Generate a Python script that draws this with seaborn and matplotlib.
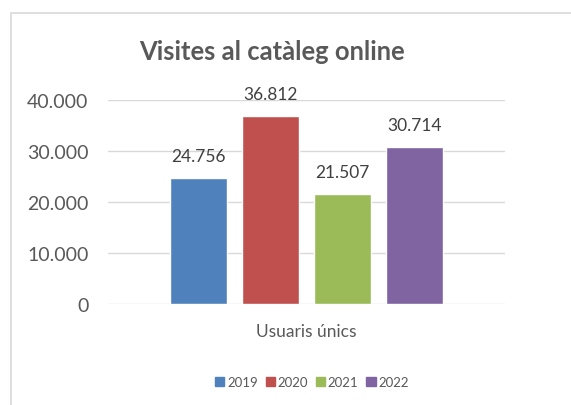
import pandas as pd
import seaborn as sns
import matplotlib.pyplot as plt
from matplotlib.patches import Rectangle

# Datos
categoria = ["Usuaris únics"]
anys = ["2019", "2020", "2021", "2022"]
visites = [24756, 36812, 21507, 30714]
colors = ["#4F81BD", "#C0504D", "#9BBB59", "#8064A2"]

df = pd.DataFrame({
    "Categoria": categoria * len(anys),
    "Any": anys,
    "Visites": visites,
})

sns.set_theme(style="white")
plt.rcParams["font.family"] = ["Lato", "DejaVu Sans"]

fig = plt.figure(figsize=(5.71, 4.06), dpi=100)
fig.patch.set_facecolor("white")

# Marc del gràfic (només es veuen els costats esquerre i superior)
fig.patches.append(Rectangle((11 / 571, -0.5), 2.0, 1.5 - 14 / 406,
                             transform=fig.transFigure, fill=False,
                             edgecolor="#d9d9d9", linewidth=1.2))

ax = fig.add_axes([108 / 571, 1 - 305 / 406, 397 / 571, 204 / 406])
sns.barplot(data=df, x="Categoria", y="Visites", hue="Any",
            palette=colors, width=0.725, gap=0.208, ax=ax,
            saturation=1, legend=True)

ax.set_xlim(-0.5, 0.5)
ax.set_ylim(0, 40000)
ax.set_yticks([0, 10000, 20000, 30000, 40000])
ax.set_yticklabels(["0", "10.000", "20.000", "30.000", "40.000"])
ax.yaxis.grid(True, color="#d9d9d9", linewidth=1)
ax.set_axisbelow(True)
for s in ax.spines.values():
    s.set_visible(False)
ax.tick_params(axis="y", length=0, pad=14, labelsize=14, labelcolor="#595959")
ax.tick_params(axis="x", length=0, pad=14, labelsize=12.5, labelcolor="#595959")
ax.set_xlabel("")
ax.set_ylabel("")

for cont in ax.containers:
    ax.bar_label(cont, labels=[f"{v:,.0f}".replace(",", ".") for v in cont.datavalues],
                 padding=10, fontsize=12.5, color="#404040")

ax.get_legend().remove()
handles = [Rectangle((0, 0), 1, 1, color=c) for c in colors]
fig.legend(handles, anys, loc="center", bbox_to_anchor=(312 / 571, 1 - 383 / 406),
           ncol=4, frameon=False, fontsize=9.5, labelcolor="#595959",
           handlelength=0.7, handleheight=0.7, handletextpad=0.2, columnspacing=0.6)

fig.text(272 / 571, 1 - 52 / 406, "Visites al catàleg online", ha="center", va="center",
         fontsize=18.4, fontweight="bold", color="#595959")

plt.savefig("out.png", dpi=100)
